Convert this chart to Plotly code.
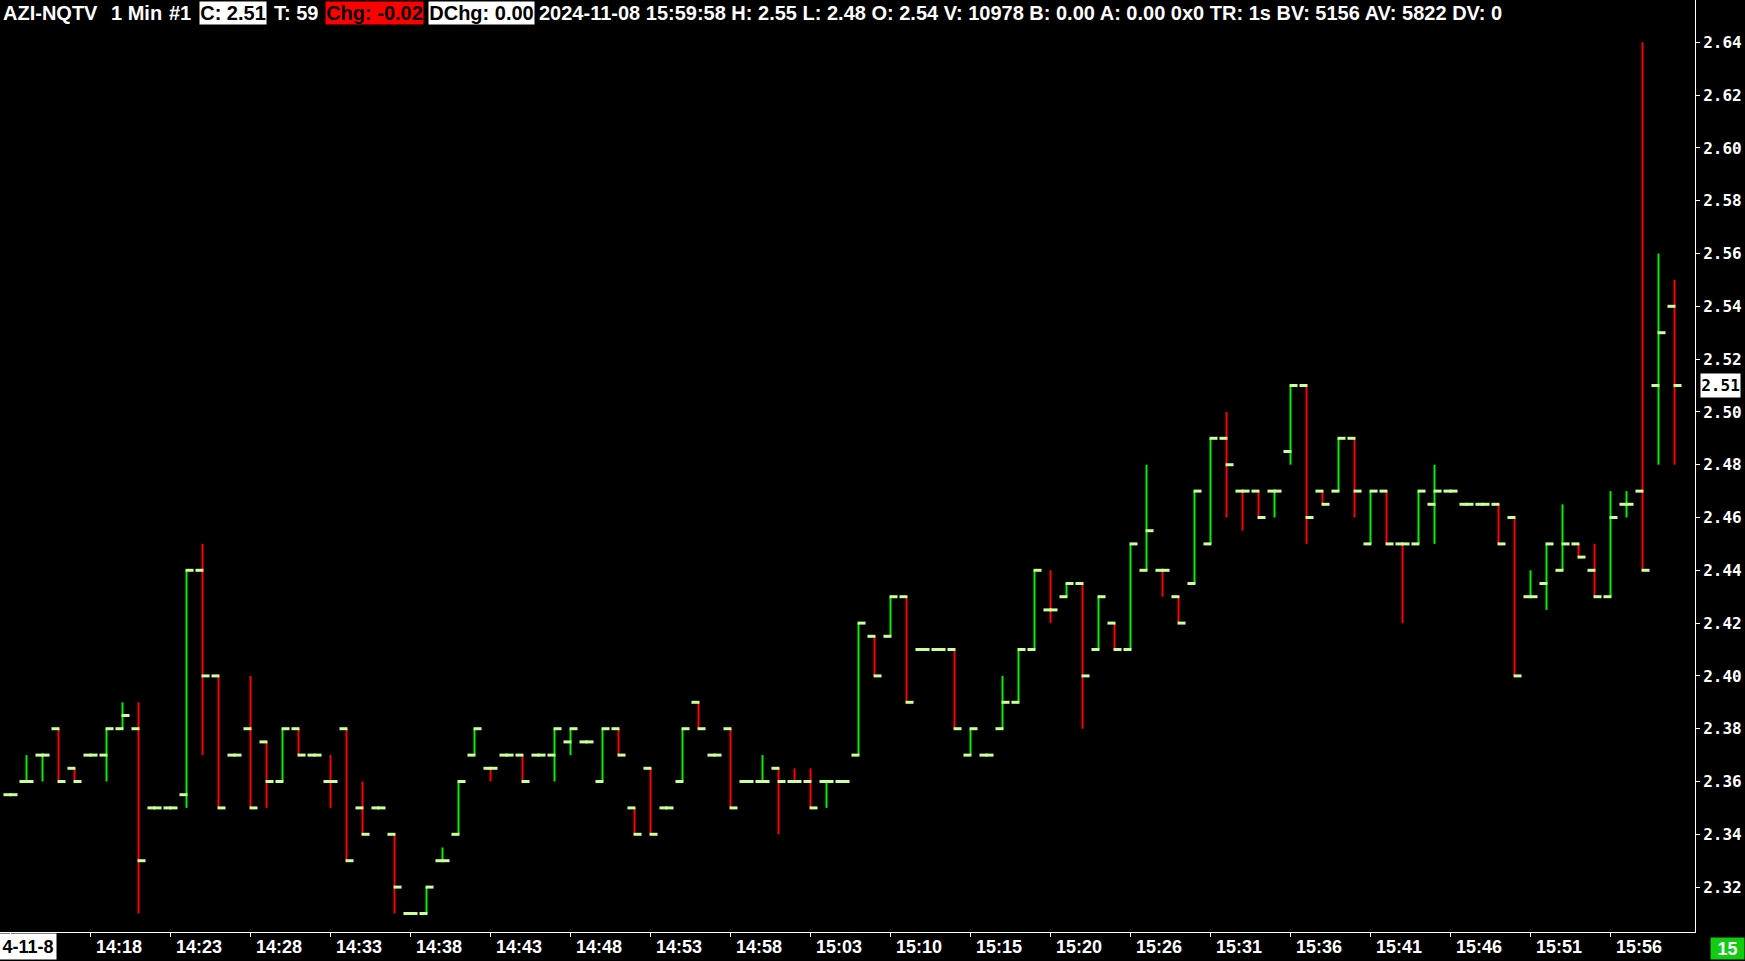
import plotly.graph_objects as go

# ---------------- data (1-minute bars, AZI-NQTV) ----------------
open_ = [2.355, 2.36, 2.37, 2.38, 2.365, 2.37, 2.37, 2.38, 2.38, 2.35,
         2.35, 2.355, 2.44, 2.40, 2.37, 2.38, 2.375, 2.36, 2.38, 2.37,
         2.36, 2.38, 2.35, 2.35, 2.34, 2.31, 2.31, 2.33, 2.34, 2.37,
         2.365, 2.37, 2.37, 2.37, 2.37, 2.375, 2.375, 2.36, 2.38, 2.35,
         2.365, 2.35, 2.36, 2.39, 2.37, 2.38, 2.36, 2.36, 2.365, 2.36,
         2.36, 2.36, 2.36, 2.37, 2.415, 2.415, 2.43, 2.41, 2.41, 2.41,
         2.37, 2.37, 2.38, 2.39, 2.41, 2.425, 2.43, 2.435, 2.41, 2.42,
         2.41, 2.44, 2.44, 2.43, 2.435, 2.45, 2.49, 2.47, 2.47, 2.47,
         2.485, 2.51, 2.47, 2.47, 2.49, 2.45, 2.47, 2.45, 2.45, 2.465,
         2.47, 2.465, 2.465, 2.465, 2.46, 2.43, 2.435, 2.44, 2.45, 2.44,
         2.43, 2.465, 2.47, 2.51, 2.54]
high = [2.355, 2.37, 2.37, 2.38, 2.365, 2.37, 2.38, 2.39, 2.39, 2.35,
        2.35, 2.44, 2.45, 2.40, 2.37, 2.40, 2.375, 2.38, 2.38, 2.37,
        2.37, 2.38, 2.36, 2.35, 2.34, 2.31, 2.32, 2.335, 2.36, 2.38,
        2.365, 2.37, 2.37, 2.37, 2.38, 2.38, 2.375, 2.38, 2.38, 2.35,
        2.365, 2.35, 2.38, 2.39, 2.37, 2.38, 2.36, 2.37, 2.365, 2.365,
        2.365, 2.36, 2.36, 2.42, 2.415, 2.43, 2.43, 2.41, 2.41, 2.41,
        2.38, 2.37, 2.40, 2.41, 2.44, 2.44, 2.435, 2.435, 2.43, 2.42,
        2.45, 2.48, 2.44, 2.43, 2.47, 2.49, 2.50, 2.47, 2.47, 2.47,
        2.51, 2.51, 2.47, 2.49, 2.49, 2.47, 2.47, 2.45, 2.47, 2.48,
        2.47, 2.465, 2.465, 2.465, 2.46, 2.44, 2.45, 2.465, 2.45, 2.45,
        2.47, 2.47, 2.64, 2.56, 2.55]
low = [2.355, 2.36, 2.36, 2.36, 2.36, 2.37, 2.36, 2.38, 2.31, 2.35,
       2.35, 2.35, 2.37, 2.35, 2.37, 2.35, 2.35, 2.36, 2.37, 2.37,
       2.35, 2.33, 2.34, 2.35, 2.31, 2.31, 2.31, 2.33, 2.34, 2.37,
       2.36, 2.37, 2.36, 2.37, 2.36, 2.37, 2.375, 2.36, 2.37, 2.34,
       2.34, 2.35, 2.36, 2.38, 2.37, 2.35, 2.36, 2.36, 2.34, 2.36,
       2.35, 2.35, 2.36, 2.37, 2.40, 2.415, 2.39, 2.41, 2.41, 2.38,
       2.37, 2.37, 2.38, 2.39, 2.41, 2.42, 2.43, 2.38, 2.41, 2.41,
       2.41, 2.44, 2.43, 2.42, 2.435, 2.45, 2.46, 2.455, 2.46, 2.46,
       2.48, 2.45, 2.465, 2.47, 2.46, 2.45, 2.45, 2.42, 2.45, 2.45,
       2.47, 2.465, 2.465, 2.45, 2.40, 2.43, 2.425, 2.44, 2.445, 2.43,
       2.43, 2.46, 2.44, 2.48, 2.48]
close = [2.355, 2.36, 2.37, 2.36, 2.36, 2.37, 2.38, 2.385, 2.33, 2.35,
         2.35, 2.44, 2.40, 2.35, 2.37, 2.35, 2.36, 2.38, 2.37, 2.37,
         2.36, 2.33, 2.34, 2.35, 2.32, 2.31, 2.32, 2.33, 2.36, 2.38,
         2.365, 2.37, 2.36, 2.37, 2.38, 2.38, 2.375, 2.38, 2.37, 2.34,
         2.34, 2.35, 2.38, 2.38, 2.37, 2.35, 2.36, 2.36, 2.36, 2.36,
         2.35, 2.36, 2.36, 2.42, 2.40, 2.43, 2.39, 2.41, 2.41, 2.38,
         2.38, 2.37, 2.39, 2.41, 2.44, 2.425, 2.435, 2.40, 2.43, 2.41,
         2.45, 2.455, 2.44, 2.42, 2.47, 2.49, 2.48, 2.47, 2.46, 2.47,
         2.51, 2.46, 2.465, 2.49, 2.47, 2.47, 2.45, 2.45, 2.47, 2.47,
         2.47, 2.465, 2.465, 2.45, 2.40, 2.43, 2.45, 2.45, 2.445, 2.43,
         2.46, 2.465, 2.44, 2.53, 2.51]

time_tick_bars = [0, 5, 10, 15, 20, 25, 30, 35, 40, 45, 50,
                  55, 60, 65, 70, 75, 80, 85, 90, 95, 100]
time_tick_labels = ["4-11-8", "14:18", "14:23", "14:28", "14:33", "14:38", "14:43",
                    "14:48", "14:53", "14:58", "15:03", "15:10", "15:15", "15:20",
                    "15:26", "15:31", "15:36", "15:41", "15:46", "15:51", "15:56"]
price_ticks = [2.32, 2.34, 2.36, 2.38, 2.40, 2.42, 2.44, 2.46, 2.48,
               2.50, 2.52, 2.54, 2.56, 2.58, 2.60, 2.62, 2.64]
last_price = 2.51

header_plain = [("AZI-NQTV", 2), ("1 Min", 110), ("#1", 168), ("T: 59", 273),
                ("2024-11-08 15:59:58 H: 2.55 L: 2.48 O: 2.54 V: 10978 B: 0.00 A: 0.00 "
                 "0x0 TR: 1s BV: 5156 AV: 5822 DV: 0", 538)]
header_boxes = [("C: 2.51", 199, 265, "#ffffff"), ("Chg: -0.02", 325, 422, "#ff0000"),
                ("DChg: 0.00", 428, 533, "#ffffff")]

# ---------------- style ----------------
W, H = 1745, 961
ML, MR, MT, MB = 0, 50, 0, 29
PW, PH = W - ML - MR, H - MT - MB
UP, DOWN, TICK = "#00f000", "#ff0000", "#ccff99"
SANS = "Liberation Sans, Arial, sans-serif"
MONO = "DejaVu Sans Mono, monospace"

n = len(close)
dirs = []
prev_dir = True
for i in range(n):
    if close[i] > open_[i]:
        d = True
    elif close[i] < open_[i]:
        d = False
    else:
        pc = close[i - 1] if i > 0 else close[i]
        d = prev_dir if close[i] == pc else close[i] > pc
    dirs.append(d)
    prev_dir = d

ux, uy, dx, dy = [], [], [], []
tx, ty = [], []
for i in range(n):
    if high[i] > low[i]:
        if dirs[i]:
            ux += [i, i, None]; uy += [low[i], high[i], None]
        else:
            dx += [i, i, None]; dy += [low[i], high[i], None]
    tx += [i - 0.44, i + 0.06, None, i - 0.06, i + 0.44, None]
    ty += [open_[i], open_[i], None, close[i], close[i], None]

fig = go.Figure()
fig.add_trace(go.Scatter(x=ux, y=uy, mode="lines", line=dict(color=UP, width=2),
                         hoverinfo="skip", showlegend=False))
fig.add_trace(go.Scatter(x=dx, y=dy, mode="lines", line=dict(color=DOWN, width=2),
                         hoverinfo="skip", showlegend=False))
fig.add_trace(go.Scatter(x=tx, y=ty, mode="lines", line=dict(color=TICK, width=3),
                         hoverinfo="skip", showlegend=False))

xr = [-10.5 / 16, (PW - 10.5) / 16]
yr = [2.64 - (PH - 42.3) / 2640, 2.64 + 42.3 / 2640]

fig.update_layout(
    width=W, height=H, margin=dict(l=ML, r=MR, t=MT, b=MB),
    paper_bgcolor="black", plot_bgcolor="black", showlegend=False,
    xaxis=dict(range=xr, showgrid=False, zeroline=False, showline=True,
               linecolor="white", linewidth=1, ticks="outside", ticklen=4,
               tickcolor="white", tickvals=time_tick_bars, showticklabels=False,
               fixedrange=True),
    yaxis=dict(range=yr, side="right", showgrid=False, zeroline=False, showline=True,
               linecolor="white", linewidth=1, ticks="outside", ticklen=4,
               tickcolor="white", tickvals=price_ticks,
               ticktext=["%.2f" % v for v in price_ticks],
               tickfont=dict(family=MONO, size=16, color="white", weight="bold"),
               fixedrange=True),
)

ann = []
for k, lab in zip(time_tick_bars, time_tick_labels):
    if k == 0:
        ann.append(dict(x=28 / PW, xref="paper", y=-14.5 / PH, yref="paper", text=lab,
                        showarrow=False, xanchor="center", yanchor="middle",
                        bgcolor="white", width=56, height=25, borderpad=0,
                        font=dict(family=SANS, size=18, color="black", weight="bold")))
    else:
        ann.append(dict(x=k, xref="x", y=-15 / PH, yref="paper", text=lab, xshift=28,
                        showarrow=False, xanchor="center", yanchor="middle",
                        font=dict(family=SANS, size=18, color="white", weight="bold")))

for txt, px in header_plain:
    ann.append(dict(x=px / PW, xref="paper", y=1, yref="paper", yshift=-1, text=txt,
                    showarrow=False, xanchor="left", yanchor="top", borderpad=0,
                    font=dict(family=SANS, size=20, color="white", weight="bold")))
for txt, x0, x1, bg in header_boxes:
    ann.append(dict(x=x0 / PW, xref="paper", y=1, yref="paper", yshift=-1, text=txt,
                    showarrow=False, xanchor="left", yanchor="top", bgcolor=bg,
                    width=x1 - x0, height=22, borderpad=0, align="center",
                    font=dict(family=SANS, size=20, color="black", weight="bold")))

ann.append(dict(x=1, xref="paper", xshift=5, y=last_price, yref="y", text="%.2f" % last_price,
                showarrow=False, xanchor="left", yanchor="middle", bgcolor="white",
                width=39, height=23, borderpad=0,
                font=dict(family=MONO, size=16, color="black", weight="bold")))
ann.append(dict(x=1, xref="paper", xshift=15, y=0, yref="paper", yshift=-16, text="15",
                showarrow=False, xanchor="left", yanchor="middle", bgcolor="#11cc11",
                width=33, height=21, borderpad=0,
                font=dict(family=SANS, size=18, color="white", weight="bold")))

fig.update_layout(annotations=ann)

fig.write_html("out.html", config={"displayModeBar": False},
               post_script="document.body.style.margin='0';document.body.style.overflow='hidden';")
